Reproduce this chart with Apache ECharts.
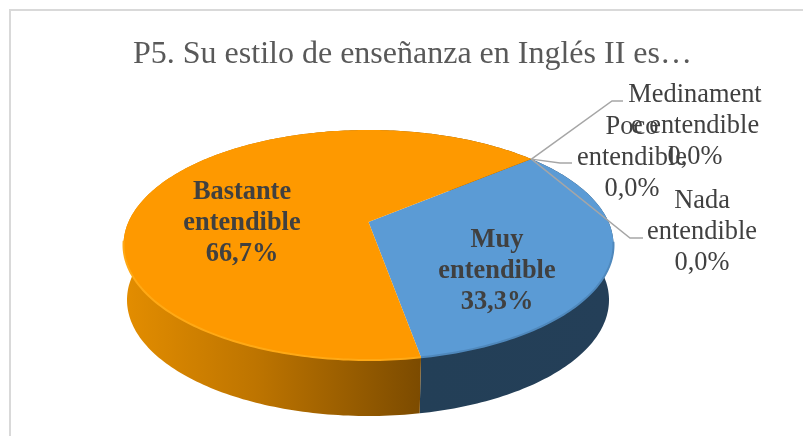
<!DOCTYPE html>
<html>
<head>
<meta charset="utf-8">
<style>
  html, body { margin: 0; padding: 0; background: #fff; }
  #chart { width: 803px; height: 436px; }
</style>
<script src="https://cdn.jsdelivr.net/npm/echarts@6/dist/echarts.min.js"></script>
</head>
<body>
<div id="chart"></div>
<script>
var chartTitle = 'P5. Su estilo de enseñanza en Inglés II es…';
var categories = ['Muy entendible', 'Bastante entendible', 'Medinamente entendible', 'Poco entendible', 'Nada entendible'];
var values = [33.3, 66.7, 0, 0, 0];
var labelLines = [
  ['Muy', 'entendible'],
  ['Bastante', 'entendible'],
  ['Medinament', 'e entendible'],
  ['Poco', 'entendible'],
  ['Nada', 'entendible']
];

// layout of the tilted pie
var startAngle = 50;
var topDisc = { cx: 368.5, cy: 245, rx: 245, ry: 115 };
var bottomDisc = { cx: 368, cy: 300, rx: 241, ry: 116 };
var tilt = -0.2; // moves the pie centre up inside the ellipse, like the perspective does
var labelPos = [[497, 271], [242, 223], [695, 126], [632, 158], [702, 232]];
var labelBold = [true, true, false, false, false];
var leaders = [null, null, [[612, 101], [623, 101]], [[560, 163], [572, 163]], [[630, 238], [643, 238]]];

var total = values.reduce(function (a, b) { return a + b; }, 0);

function sliceAngles(i) {
  var before = 0;
  for (var k = 0; k < i; k++) before += values[k];
  var a0 = startAngle + before / total * 360;
  return [a0, a0 + values[i] / total * 360];
}

// clockwise angle from 12 o'clock -> pixel on the disc rim
function rimPoint(disc, deg) {
  var t = deg * Math.PI / 180;
  var x = Math.sin(t), y = -Math.cos(t);
  var d = 1 + tilt * y;
  var s = Math.sqrt(1 - tilt * tilt);
  return [disc.cx + disc.rx * x * s / d, disc.cy + disc.ry * (y + tilt) / d];
}

function arcPoints(disc, a0, a1) {
  var n = Math.max(2, Math.ceil(Math.abs(a1 - a0)));
  var pts = [];
  for (var i = 0; i <= n; i++) pts.push(rimPoint(disc, a0 + (a1 - a0) * i / n));
  return pts;
}

var wallFill = [
  new echarts.graphic.LinearGradient(0, 0, 1, 0, [
    { offset: 0, color: '#233f57' }, { offset: 1, color: '#243f58' }
  ]),
  new echarts.graphic.LinearGradient(125, 0, 420, 0, [
    { offset: 0, color: '#e38d00' },
    { offset: 0.45, color: '#bd7400' },
    { offset: 1, color: '#7c4b00' }
  ], true)
];
var topFill = ['#5b9bd5', '#fe9900'];
var rimColor = ['#4f88bc', '#ffa915'];

function renderWall(params) {
  var i = params.dataIndex;
  if (!values[i]) return { type: 'group', children: [] };
  var a = sliceAngles(i);
  return {
    type: 'polygon',
    shape: { points: arcPoints(topDisc, a[0], a[1]).concat(arcPoints(bottomDisc, a[1], a[0])) },
    style: { fill: wallFill[i] }
  };
}

function renderTop(params) {
  var i = params.dataIndex;
  if (!values[i]) return { type: 'group', children: [] };
  var a = sliceAngles(i);
  var rim = arcPoints(topDisc, a[0], a[1]);
  return {
    type: 'group',
    children: [
      {
        type: 'polygon',
        shape: { points: [[topDisc.cx, topDisc.cy + tilt * topDisc.ry]].concat(rim) },
        style: { fill: topFill[i] }
      },
      {
        type: 'polyline',
        shape: { points: rim.filter(function (p) { return p[1] > topDisc.cy - 5; }) },
        style: { stroke: rimColor[i], lineWidth: 2, fill: 'none' }
      }
    ]
  };
}

function renderLabel(params, api) {
  var i = params.dataIndex;
  var children = [];
  if (leaders[i]) {
    var from = rimPoint(topDisc, sliceAngles(i)[0]);
    children.push({
      type: 'polyline',
      shape: { points: [from].concat(leaders[i]) },
      style: { stroke: '#a6a6a6', lineWidth: 1.5, fill: 'none' }
    });
  }
  var pct = api.value(0).toFixed(1).replace('.', ',') + '%';
  children.push({
    type: 'text',
    z2: 10,
    style: {
      text: labelLines[i].concat(pct).join('\n'),
      x: labelPos[i][0],
      y: labelPos[i][1],
      align: 'center',
      verticalAlign: 'middle',
      lineHeight: 31,
      fontFamily: '"Liberation Serif", serif',
      fontSize: 26.4,
      fontWeight: labelBold[i] ? 'bold' : 'normal',
      fill: '#404040'
    }
  });
  return { type: 'group', children: children };
}

var chart = echarts.init(document.getElementById('chart'));
var sliceData = values.map(function (v, i) { return { name: categories[i], value: v }; });

chart.setOption({
  animation: false,
  backgroundColor: '#ffffff',
  title: {
    text: chartTitle,
    left: 128,
    top: 34,
    textStyle: { fontFamily: '"Liberation Serif", serif', fontSize: 32, fontWeight: 'normal', color: '#595959' }
  },
  graphic: [{
    type: 'polyline',
    silent: true,
    z: -1,
    shape: { points: [[10, 436], [10, 10], [803, 10]] },
    style: { fill: 'none', stroke: '#d9d9d9', lineWidth: 2 }
  }],
  series: [
    { type: 'custom', coordinateSystem: 'none', renderItem: renderWall, data: sliceData, z: 1 },
    { type: 'custom', coordinateSystem: 'none', renderItem: renderTop, data: sliceData, z: 2 },
    { type: 'custom', coordinateSystem: 'none', renderItem: renderLabel, data: sliceData, z: 3 }
  ]
});
</script>
</body>
</html>
